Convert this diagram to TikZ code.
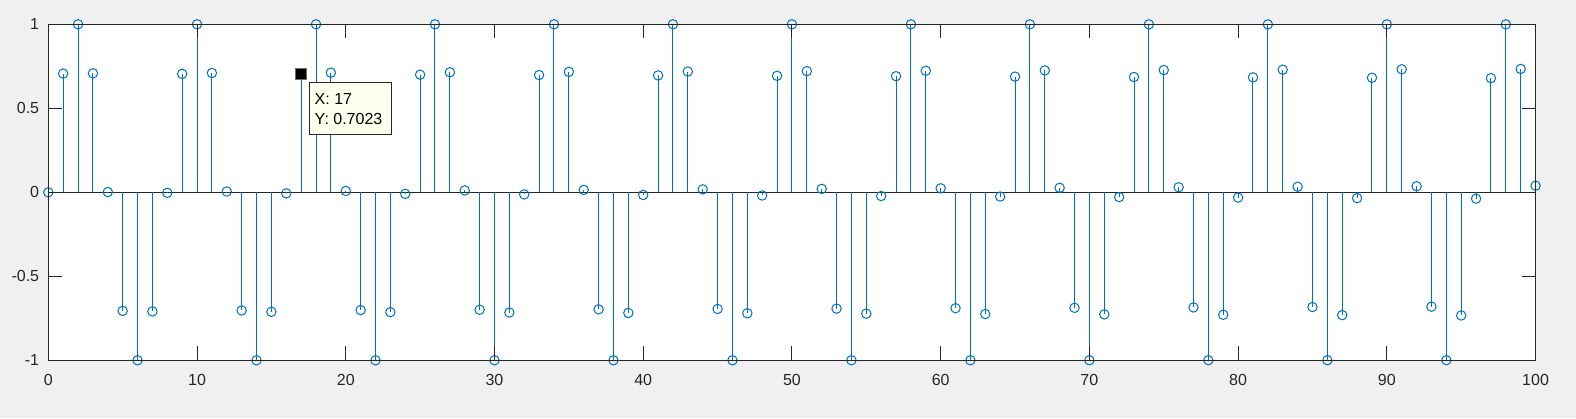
\documentclass[tikz,border=0pt]{standalone}
\usepackage{fontspec}
\setmainfont{Liberation Sans}
\usetikzlibrary{positioning}
\definecolor{figbg}{RGB}{240,240,240}
\definecolor{axcol}{RGB}{38,38,38}
\definecolor{stemblue}{RGB}{0,114,189}
\definecolor{tipbg}{RGB}{255,255,238}
\tikzset{stemline/.style={draw=stemblue, line width=0.5pt},
stemmark/.style={draw=stemblue, line width=0.5pt},
%tick length is about 14px on the screen
axline/.style={draw=axcol, line width=0.5pt},
ticklab/.style={text=axcol, inner sep=0pt, font=\fontsize{8}{9.6}\selectfont}}

\begin{document}
\begin{tikzpicture}[x=7.436pt, y=84pt]

\path[use as bounding box, fill=figbg] (-3.248,-1.3435) rectangle (102.72,1.1446);

\coordinate (sw) at (0,-1);
\coordinate (se) at (100,-1);
\coordinate (ne) at (100,1);
\coordinate (nw) at (0,1);

\fill[white] (sw) rectangle (ne);

% baseline at zero
\draw[axline] (0,0) -- (100,0);

\foreach \n in {0,...,100}{
    \pgfmathsetmacro{\v}{sin(deg(0.785*\n))}
    \draw[stemline] (\n,0) -- (\n,\v);
    \draw[stemmark] (\n,\v) circle (2.35pt);
}

\draw[axline] (sw) -- (se) -- (ne) -- (nw) -- cycle;

\foreach \x in {0,10,...,100}{
    \draw[axline] (\x,-1) -- (\x,-0.9167);
    \draw[axline] (\x,1) -- (\x,0.9167);
    \node[ticklab] (xl\x) at (\x,-1.1155) {\x};
}

\foreach \y/\t in {-1/-1,-0.5/-0.5,0/0,0.5/0.5,1/1}{
    \draw[axline] (0,\y) -- (0.941,\y);
    \draw[axline] (100,\y) -- (99.059,\y);
    \node[ticklab, anchor=east] (yl\t) at (-0.592,\y) {\t};
}

% data tip at n = 17
\node[fill=black, draw={rgb,255:red,110;green,105;blue,80}, line width=0.4pt,
    minimum size=5.5pt, inner sep=0pt] (mark) at (17,0.7023) {};
\node[draw=axcol, fill=tipbg, line width=0.5pt, anchor=north west,
    minimum width=40.7pt, minimum height=25.85pt, inner sep=0pt] (tip) at (17.55,0.6548) {};
\node[ticklab, anchor=base west, text=black] (tipx) at (17.886,0.5238) {X: 17};
\node[ticklab, anchor=base west, text=black] (tipy) at (17.886,0.4006) {Y: 0.7023};

\end{tikzpicture}
\end{document}
